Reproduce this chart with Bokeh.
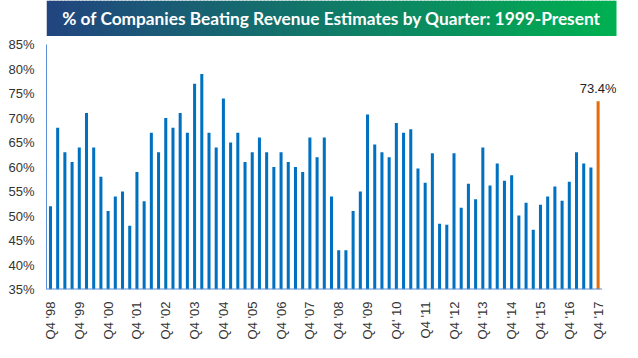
import math
from bokeh.plotting import figure
from bokeh.layouts import column
from bokeh.models import FixedTicker, PrintfTickFormatter, Range1d, ColumnDataSource, Label
from bokeh.core.properties import value
from bokeh.embed import file_html
from bokeh.resources import INLINE

# ---------------- data ----------------
title_text = "% of Companies Beating Revenue Estimates by Quarter: 1999-Present"

values = [52, 68, 63, 61, 64, 71, 64, 58, 51, 54,
          55, 48, 59, 53, 67, 63, 70, 68, 71, 67,
          77, 79, 67, 64, 74, 65, 67, 61, 63, 66,
          63, 60, 63, 61, 60, 59, 66, 62, 66, 54,
          43, 43, 51, 55, 70.7, 64.6, 63, 62, 69, 67,
          67.7, 59.7, 56.8, 62.8, 48.4, 48.2, 62.8, 51.7, 56.6, 53.4,
          64.0, 56.2, 60.7, 57.2, 58.3, 50.1, 52.7, 47.2, 52.3, 54.0,
          56.0, 53.1, 57.0, 63.0, 60.7, 59.9, 73.4]

tick_labels = ["Q4 '98", "Q4 '99", "Q4 '00", "Q4 '01", "Q4 '02", "Q4 '03",
               "Q4 '04", "Q4 '05", "Q4 '06", "Q4 '07", "Q4 '08", "Q4 '09",
               "Q4' 10", "Q4 '11", "Q4 '12", "Q4 '13", "Q4 '14", "Q4 '15",
               "Q4 '16", "Q4 '17"]

y_ticks = [35, 40, 45, 50, 55, 60, 65, 70, 75, 80, 85]

BLUE = "#0070C0"
ORANGE = "#E46C0A"
AXIS_BLUE = "#5B8FD6"
GRAD_LEFT = (0x21, 0x45, 0x7F)
GRAD_RIGHT = (0x00, 0xB0, 0x50)

W = 622

# ---------------- title bar (gradient) ----------------
tf = figure(width=W, height=36, x_range=Range1d(0, 1), y_range=Range1d(0, 1),
            toolbar_location=None, output_backend="svg", min_border=0,
            x_axis_location=None, y_axis_location=None)
tf.grid.visible = False
tf.outline_line_color = None

N = 160
lefts, rights, cols = [], [], []
for i in range(N):
    t = i / (N - 1)
    c = tuple(int(round(a + (b - a) * t)) for a, b in zip(GRAD_LEFT, GRAD_RIGHT))
    lefts.append(i / N)
    rights.append((i + 1) / N + 0.002)
    cols.append("#%02x%02x%02x" % c)
tf.quad(left=lefts, right=rights, bottom=0, top=1, fill_color=cols, line_color=None)
tf.text(x=[0.5], y=[0.5], text=[title_text], text_align="center", text_baseline="middle",
        text_font=value("Lato"), text_font_style="bold", text_font_size="17.3px",
        text_color="white")

# ---------------- main chart ----------------
n = len(values)
xs = list(range(n))
colors = [BLUE] * (n - 1) + [ORANGE]
src = ColumnDataSource(dict(x=xs, top=values, color=colors))

x_lo, x_hi = -0.55, n - 1 + 0.55
p = figure(width=W, height=306, x_range=Range1d(x_lo, x_hi + 2.0),
           y_range=Range1d(35, 85), toolbar_location=None, output_backend="svg",
           min_border_left=46, min_border_right=6, min_border_top=8)
p.outline_line_color = None
p.grid.visible = False

p.vbar(x="x", top="top", bottom=35, width=0.42, fill_color="color",
       line_color=None, source=src)

# baseline that stops just after the last bar (like the original axis line)
p.segment(x0=[x_lo], x1=[x_hi], y0=[35], y1=[35], line_color=AXIS_BLUE, line_width=2)

p.add_layout(Label(x=xs[-1], y=values[-1], text=f"{values[-1]}%", text_align="center",
                   text_baseline="bottom", y_offset=5, text_font="Liberation Sans",
                   text_font_size="13px", text_color="#222222"))

p.yaxis.ticker = FixedTicker(ticks=y_ticks)
p.yaxis.formatter = PrintfTickFormatter(format="%d%%")
p.xaxis.ticker = FixedTicker(ticks=[i * 4 for i in range(len(tick_labels))])
p.xaxis.major_label_overrides = {i * 4: lab for i, lab in enumerate(tick_labels)}
p.xaxis.major_label_orientation = math.pi / 2

for ax in (p.xaxis, p.yaxis):
    ax.major_tick_line_color = None
    ax.minor_tick_line_color = None
    ax.axis_line_color = AXIS_BLUE
    ax.axis_line_width = 1
    ax.major_label_text_font = "Liberation Sans"
    ax.major_label_text_font_size = "13px"
    ax.major_label_text_color = "#333333"
p.xaxis.axis_line_color = None
p.xaxis.major_label_standoff = 6
p.yaxis.major_label_standoff = 6

layout = column(tf, p, spacing=0)

open("out.html", "w").write(file_html(layout, INLINE))
